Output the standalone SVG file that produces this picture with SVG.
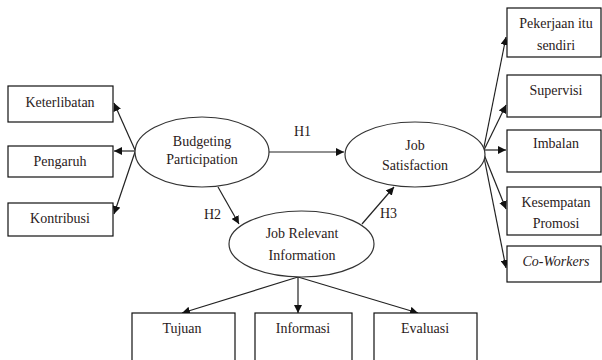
<svg xmlns="http://www.w3.org/2000/svg" width="602" height="360" viewBox="0 0 602 360">
<style>
.box{fill:#fff;stroke:#111;stroke-width:1.2}
.ell{fill:#fff;stroke:#333;stroke-width:1.2}
text{font-family:'Liberation Serif','Times New Roman',Tinos,'DejaVu Serif',serif;font-size:14px;fill:#2a1a1a;text-anchor:middle}
.lbl{text-anchor:start}
.conn line{stroke:#222;stroke-width:1.2;marker-end:url(#ah)}
</style>
<defs>
<marker id="ah" markerUnits="userSpaceOnUse" markerWidth="9" markerHeight="8" refX="8" refY="4" orient="auto">
<path d="M0,0 L8,4 L0,8 z" fill="#111"/>
</marker>
</defs>
<rect width="602" height="360" fill="#fff"/>
<g class="conn" id="connectors">
<line x1="135" y1="150" x2="114" y2="103"/>
<line x1="135" y1="151" x2="114" y2="151"/>
<line x1="135" y1="152" x2="114" y2="214"/>
<line x1="269" y1="152" x2="344" y2="152"/>
<line x1="218" y1="187" x2="239" y2="224"/>
<line x1="362" y1="224" x2="394" y2="187"/>
<line x1="483" y1="152" x2="506" y2="37"/>
<line x1="483" y1="152" x2="506" y2="105"/>
<line x1="483" y1="150" x2="506" y2="150"/>
<line x1="483" y1="152" x2="506" y2="209"/>
<line x1="483" y1="152" x2="506" y2="268"/>
<line x1="298" y1="277" x2="182" y2="313"/>
<line x1="298" y1="277" x2="298" y2="313"/>
<line x1="298" y1="277" x2="418" y2="313"/>
<text class="lbl" x="294" y="136" font-family="Liberation Serif, serif">H1</text>
<text class="lbl" x="204" y="219" font-family="Liberation Serif, serif">H2</text>
<text class="lbl" x="380" y="218" font-family="Liberation Serif, serif">H3</text>
</g>
<g id="keterlibatan"><rect class="box" x="8" y="86" width="105" height="36"/><text x="60" y="107">Keterlibatan</text></g>
<g id="pengaruh"><rect class="box" x="8" y="146" width="105" height="31"/><text x="60" y="166">Pengaruh</text></g>
<g id="kontribusi"><rect class="box" x="8" y="203" width="105" height="33"/><text x="60" y="223">Kontribusi</text></g>
<g id="budgeting"><ellipse class="ell" cx="202" cy="152" rx="67" ry="35"/><text x="202" y="146">Budgeting</text><text x="202" y="164">Participation</text></g>
<g id="jobsatisfaction"><ellipse class="ell" cx="415" cy="154.5" rx="70" ry="32.5"/><text x="415" y="150">Job</text><text x="415" y="170">Satisfaction</text></g>
<g id="jri"><ellipse class="ell" cx="301.5" cy="244" rx="72.5" ry="33"/><text x="302" y="238">Job Relevant</text><text x="302" y="260">Information</text></g>
<g id="pekerjaan"><rect class="box" x="507" y="8" width="94" height="49"/><text x="556" y="28">Pekerjaan itu</text><text x="556" y="50">sendiri</text></g>
<g id="supervisi"><rect class="box" x="507" y="75" width="94" height="42"/><text x="556" y="95">Supervisi</text></g>
<g id="imbalan"><rect class="box" x="507" y="130" width="94" height="42"/><text x="556" y="148">Imbalan</text></g>
<g id="kesempatan"><rect class="box" x="507" y="187" width="94" height="48"/><text x="556" y="207">Kesempatan</text><text x="556" y="228">Promosi</text></g>
<g id="coworkers"><rect class="box" x="507" y="246" width="94" height="36"/><text x="556" y="266" font-style="italic">Co-Workers</text></g>
<g id="tujuan"><rect class="box" x="132" y="313" width="103" height="55"/><text x="182" y="333">Tujuan</text></g>
<g id="informasi"><rect class="box" x="255" y="313" width="97" height="55"/><text x="303" y="333">Informasi</text></g>
<g id="evaluasi"><rect class="box" x="374" y="313" width="103" height="55"/><text x="425" y="333">Evaluasi</text></g>
</svg>
